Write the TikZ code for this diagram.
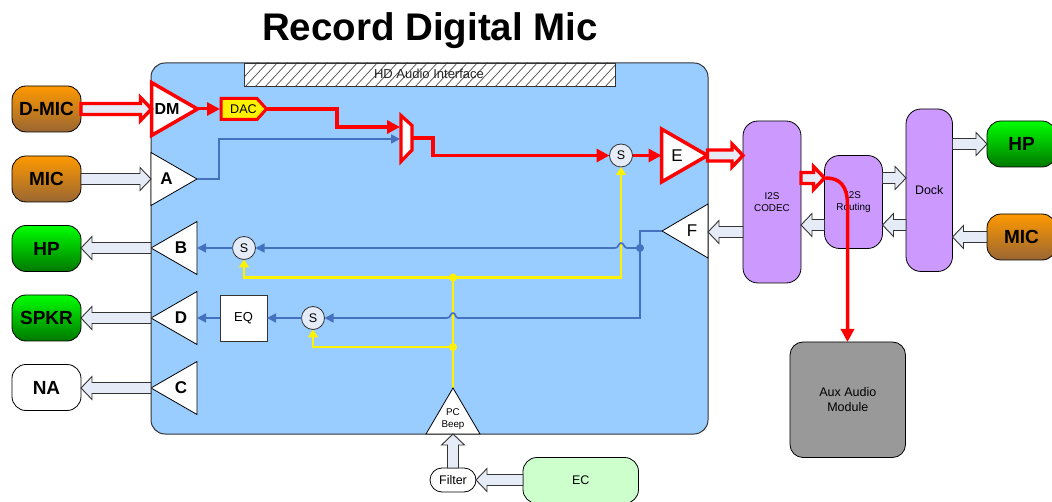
\documentclass[tikz,border=0pt]{standalone}
\usepackage{fontspec}
\setmainfont{Liberation Sans}
\usetikzlibrary{calc,arrows.meta}
\definecolor{panel}{HTML}{99CCFF}
\definecolor{edge}{HTML}{333333}
\definecolor{blk}{HTML}{E6ECF7}
\definecolor{sigblue}{HTML}{4472BE}
\definecolor{purp}{HTML}{CC99FF}
\definecolor{ecg}{HTML}{CCFFCC}
\tikzset{
  x=1pt,y=-1pt,
  box/.style={draw=black,line width=0.8pt,rounded corners=#1,inner sep=0pt,outer sep=0pt,align=center,anchor=north west},
  box/.default=14pt,
  ext/.style={box,minimum width=69pt,minimum height=46pt,font=\fontsize{19}{19}\selectfont\bfseries},
  orng/.style={shading=axis,top color={rgb,255:red,255;green,153;blue,0},bottom color={rgb,255:red,153;green,102;blue,51}},
  grn/.style={shading=axis,top color={rgb,255:red,0;green,255;blue,0},bottom color={rgb,255:red,0;green,120;blue,0}},
  ampshape/.style={draw=black,fill=white,line width=0.8pt,line join=miter},
  hot/.style={draw=red,line width=3.5pt},
  sumnode/.style={circle,draw=edge,fill=blk,line width=0.8pt,minimum size=23pt,inner sep=0pt,outer sep=0pt,font=\fontsize{12.5}{12.5}\selectfont},
  purpbox/.style={box=15pt,fill=purp,font=\fontsize{9.9}{12.5}\selectfont},
  sig/.style={draw=sigblue,line width=1.7pt,-{Triangle[length=9pt,width=9pt]}},
  signa/.style={draw=sigblue,line width=1.7pt},
  beep/.style={draw=yellow,line width=2.2pt},
  beeparrow/.style={beep,-{Triangle[length=8pt,width=10pt]}},
  hotline/.style={draw=red,line width=3.5pt,-{Triangle[length=13pt,width=13pt]}},
  blockA/.style={draw=edge,fill=blk,line width=0.9pt},
  blockH/.style={draw=red,fill=blk,line width=3.4pt,line join=miter},
  dot/.style={circle,inner sep=0pt,minimum size=8pt},
}
\newcommand{\blockarrow}[3][blockA]{%
  \coordinate (hb) at ($(#3)!11pt!(#2)$);
  \path[#1] ($(#2)!5.5pt!90:(#3)$) -- ($(hb)!5.5pt!90:(#3)$) -- ($(hb)!11.5pt!90:(#3)$) -- (#3)
    -- ($(hb)!11.5pt!-90:(#3)$) -- ($(hb)!5.5pt!-90:(#3)$) -- ($(#2)!5.5pt!-90:(#3)$) -- cycle;
}
% style, name, base x, centre y, direction (+1 right, -1 left), label font, label
\newcommand{\amp}[7][ampshape]{%
  \coordinate (#2-base) at (#3,#4);
  \coordinate (#2-tip) at ({#3+#5*46},#4);
  \path[#1] (#3,{#4-26.5}) -- (#2-tip) -- (#3,{#4+26.5}) -- cycle;
  \node[inner sep=0pt,font=#6] (#2) at ({#3+#5*15.5},#4) {#7};
}
\begin{document}
\begin{tikzpicture}
\useasboundingbox (0,0) rectangle (1052,502);
\fill[white] (0,0) rectangle (1052,502);
\node[font=\fontsize{38.5}{38.5}\selectfont\bfseries] (title) at (430,30.5) {Record Digital Mic};

% main panel
\draw[draw=edge,line width=1pt,fill=panel,rounded corners=14pt] (151,63) rectangle (708,434);
\begin{scope}
\clip (244,63) rectangle (615,86);
\fill[white] (244,63) rectangle (615,86);
\foreach \hx in {234,244,...,624} {\draw[black!70,line width=0.7pt] (\hx,88) -- (\hx+25,61);}
\end{scope}
\node[draw=edge,line width=0.8pt,anchor=north west,minimum width=371pt,minimum height=23pt,inner sep=0pt,outer sep=0pt] (hda) at (244,63) {};
\node[font=\fontsize{13}{13}\selectfont,text=black!85] (hdatext) at (429,73.5) {HD Audio Interface};

% row helper coordinates
\coordinate (r178) at (0,178); \coordinate (r225) at (0,225); \coordinate (r144) at (0,144);
\coordinate (r237) at (0,237); \coordinate (r232) at (0,232); \coordinate (r155) at (0,155);

% external left
\node[ext,orng] (dmic) at (12,86) {D-MIC};
\node[ext,orng] (mic) at (12,156) {MIC};
\node[ext,grn] (hp) at (12,225.5) {HP};
\node[ext,grn] (spkr) at (12,295) {SPKR};
\node[ext,fill=white] (na) at (12,364.5) {NA};

% yellow beep lines
\coordinate (pctip) at (453,388);
\node[sumnode] (s1) at (244,248) {S};
\node[sumnode] (s2) at (313,318) {S};
\node[sumnode] (s3) at (621,155.5) {S};
\node[dot,fill=yellow] (j1) at (453,277.5) {};
\node[dot,fill=yellow] (j2) at (453,347) {};
\draw[beep] (pctip) -- (j1.center);
\draw[beeparrow] (j1.center) -| (s3.south);
\draw[beeparrow] (j1.center) -| (s1.south);
\draw[beeparrow] (j2.center) -| (s2.south);

% amplifiers
\amp{a}{151}{179}{1}{\fontsize{17}{17}\selectfont\bfseries}{A}
\amp{b}{197}{248}{-1}{\fontsize{17}{17}\selectfont\bfseries}{}
\amp{d}{197}{318}{-1}{\fontsize{17}{17}\selectfont\bfseries}{}
\amp{c}{197}{388}{-1}{\fontsize{17}{17}\selectfont\bfseries}{}
\node[font=\fontsize{17}{17}\selectfont\bfseries] (blabel) at (181,248) {B};
\node[font=\fontsize{17}{17}\selectfont\bfseries] (dlabel) at (181,318) {D};
\node[font=\fontsize{17}{17}\selectfont\bfseries] (clabel) at (181,388) {C};
\path[ampshape] (708,204) -- (662,231) -- (708,258) -- cycle;
\coordinate (ftip) at (662,231);
\node[font=\fontsize{17}{17}\selectfont] (flabel) at (692,231) {F};

% EQ
\node[draw=edge,fill=white,line width=0.8pt,minimum width=47pt,minimum height=46pt,inner sep=0pt,outer sep=0pt,font=\fontsize{13}{13}\selectfont] (eq) at (243.5,318) {EQ};

% blue signals
\node[dot,fill=sigblue] (j3) at (640,248) {};
\coordinate (f1) at (640,231);
\coordinate (seg1) at (400,318);
\coordinate (seg2) at (500,248);
\draw[signa] (ftip) -- (f1) -- (j3.center) -- (640,318) -- (458,318) .. controls (455,318) and (456,313) .. (453,313) .. controls (450,313) and (451,318) .. (447,318) -- (seg1);
\draw[sig] (seg1) -- (s2.east);
\draw[signa] (j3.center) -- (627,248) .. controls (624,248) and (624,243) .. (621,243) .. controls (618,243) and (619,248) .. (615,248) -- (seg2);
\draw[sig] (seg2) -- (s1.east);
\draw[sig] (s1.west) -- (b-base |- s1);
\draw[sig] (s2.west) -- (eq.east);
\draw[sig] (eq.west) -- (d-base |- eq);

% mux
\coordinate (muxin1) at (400,127);
\coordinate (muxin2) at (400,139);
\coordinate (muxout) at (412.5,138);
\draw[sig] (a-tip) -- (219,179) -- (219,139) -- (muxin2);

% red path
\amp[ampshape,hot]{dm}{151.5}{109}{1}{\fontsize{16}{16}\selectfont\bfseries}{DM}
\path[hot,fill=yellow,line join=miter,line width=3pt] (221,98.5) -- (257,98.5) -- (266.5,109) -- (257,119.5) -- (221,119.5) -- cycle;
\node[font=\fontsize{12.6}{12.6}\selectfont] (dac) at (243.5,109) {DAC};
\coordinate (dacout) at (266.5,109);
\coordinate (dacin) at (220,109);
\draw[hotline,line width=3pt] (dm-tip) -- (dacin);
\draw[hotline] (dacout) -- (337,109) -- (337,127) -- (muxin1);
\path[hot,fill=white,line join=miter,line width=3.2pt] (401,115.5) -- (412,125.5) -- (412,150) -- (401,161.5) -- cycle;
\draw[hotline] (muxout) -- (433,138) -- (433,155.5) -- (s3.west);
\amp[ampshape,hot]{e}{661.5}{155.5}{1}{\fontsize{17}{17}\selectfont}{E}
\draw[hotline,line width=3pt] (s3.east) -- (e-base);

% right hand blocks
\node[purpbox,minimum width=58pt,minimum height=162pt] (codec) at (743,121) {I2S\\CODEC};
\node[purpbox,minimum width=58pt,minimum height=93pt] (routing) at (824.5,155.5) {I2S\\Routing};
\node[purpbox,font=\fontsize{12.4}{14}\selectfont,minimum width=46.5pt,minimum height=162.5pt] (dock) at (906,109) {Dock};
\node[ext,grn] (hpr) at (987,121) {HP};
\node[ext,orng] (micr) at (987,214) {MIC};
\node[box=13pt,fill=black!40,minimum width=115.5pt,minimum height=115.5pt,font=\fontsize{12.5}{15}\selectfont] (aux) at (790,342) {Aux Audio\\Module};

% PC beep, filter, EC
\coordinate (pcbase) at (453,434);
\path[ampshape] (426,434) -- (pctip) -- (480,434) -- cycle;
\node[font=\fontsize{9.8}{12}\selectfont,align=center] (pc) at (453,419) {PC\\Beep};
\node[box=12pt,fill=white,minimum width=46pt,minimum height=24pt,font=\fontsize{12.5}{12.5}\selectfont] (filter) at (430,468) {Filter};
\node[box=14pt,fill=ecg,minimum width=115.5pt,minimum height=46pt,font=\fontsize{12.5}{12.5}\selectfont] (ec) at (523,457.5) {EC};

% block arrows
\blockarrow[blockH]{dmic.east |- dm-base}{dm-base}
\blockarrow{mic.east |- a-base}{a-base}
\blockarrow{b-tip}{hp.east |- b-tip}
\blockarrow{d-tip}{spkr.east |- d-tip}
\blockarrow{c-tip}{na.east |- c-tip}
\blockarrow[blockH]{e-tip}{codec.west |- e-tip}
\coordinate (fin) at (708,232);
\blockarrow{codec.west |- fin}{fin}
\blockarrow[blockH]{codec.east |- r178}{routing.west |- r178}
\blockarrow{routing.west |- r225}{codec.east |- r225}
\blockarrow{routing.east |- r178}{dock.west |- r178}
\blockarrow{dock.west |- r225}{routing.east |- r225}
\blockarrow{dock.east |- r144}{hpr.west |- r144}
\blockarrow{micr.west |- r237}{dock.east |- r237}
\blockarrow{filter.north}{pcbase}
\blockarrow{ec.west |- filter.east}{filter.east}

% red curve to aux
\coordinate (curveend) at (847.5,342);
\coordinate (curvestart) at (826,178);
\draw[hotline] (curvestart) .. controls (840,178) and (847.5,186) .. (847.5,205) -- (curveend);
\end{tikzpicture}
\end{document}
